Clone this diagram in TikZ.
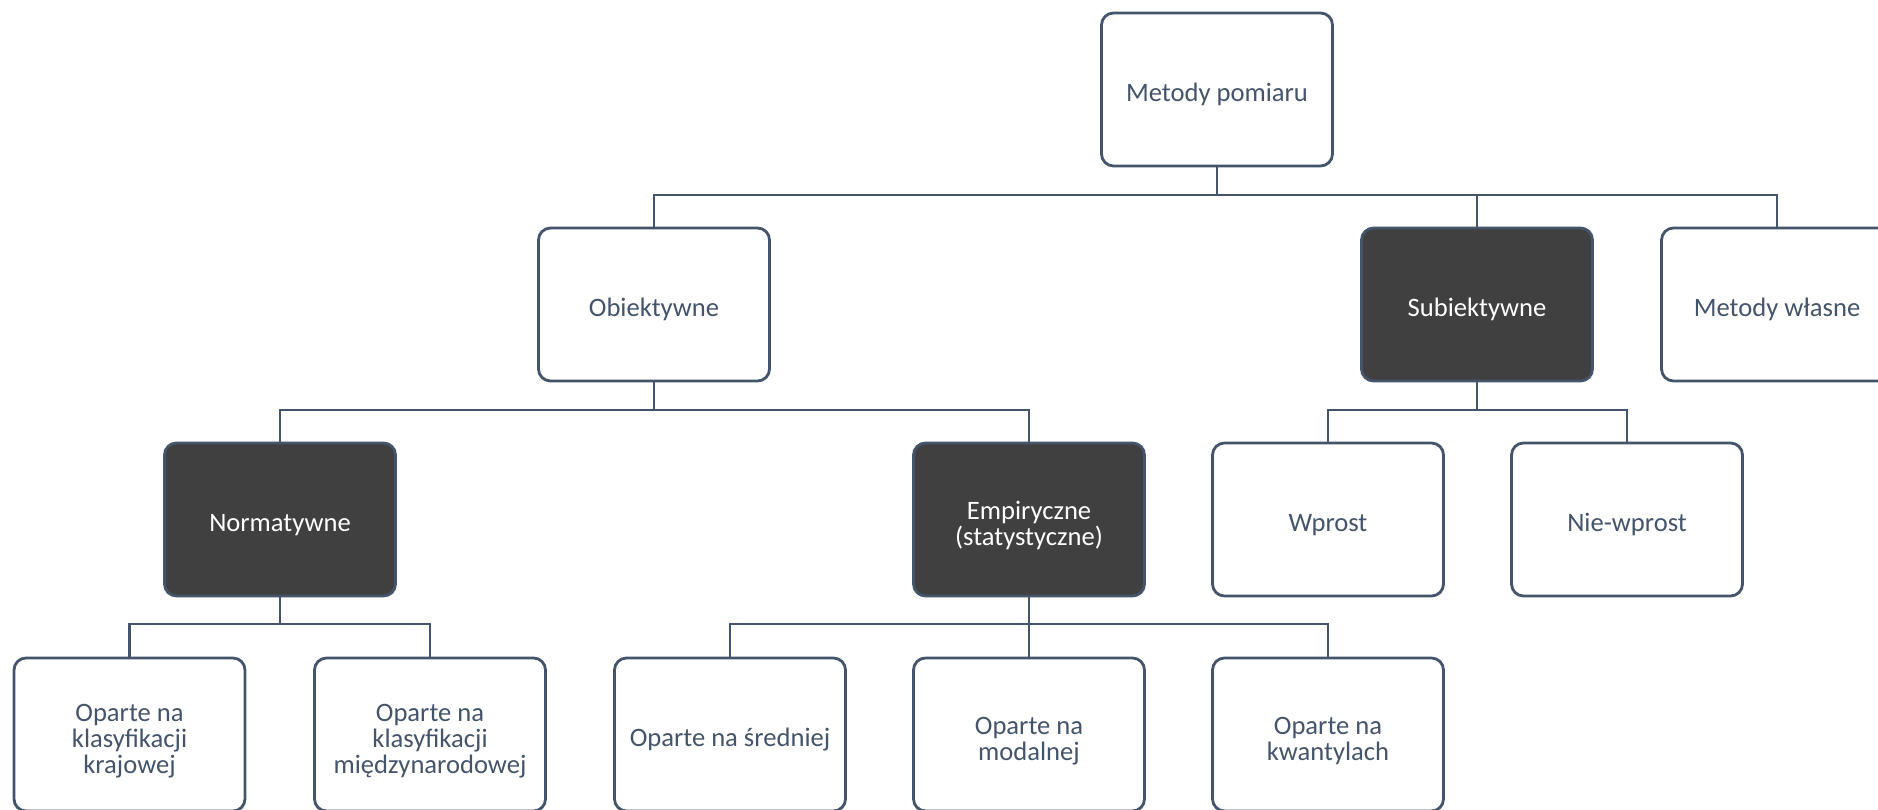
\documentclass[tikz,border=0pt]{standalone}
\usepackage{fontspec}
\setmainfont{Carlito}
\definecolor{slate}{HTML}{44546A}
\definecolor{darkfill}{HTML}{404040}
\newcommand\firstlinestrut{\rule{0pt}{15.3pt}}
\begin{document}
\begin{tikzpicture}[x=0.5pt,y=-0.5pt,
  box/.style={draw=slate, line width=1.4pt, rounded corners=6pt, fill=white,
    minimum width=115.5pt, minimum height=76.5pt, align=center,
    text=slate, font=\fontsize{13.3}{13.2}\selectfont, inner sep=2pt,
    execute at begin node={\rule{0pt}{14.5pt}\ignorespaces}},
  darkbox/.style={box, fill=darkfill, text=white},
  conn/.style={draw=slate, line width=1.3pt}]
\useasboundingbox (0,0) rectangle (1878,809);
\clip (0,0) rectangle (1878,809);
% level 0
\node[box] (top) at (1217,89.5) {Metody pomiaru};
% level 1
\node[box] (obj) at (654,304.5) {Obiektywne};
\node[darkbox] (sub) at (1477,304.5) {Subiektywne};
\node[box] (wla) at (1777,304.5) {Metody własne};
% level 2
\node[darkbox] (nor) at (280,519.5) {Normatywne};
\node[darkbox] (emp) at (1029,519.5) {\firstlinestrut Empiryczne\\(statystyczne)};
\node[box] (wpr) at (1328,519.5) {Wprost};
\node[box] (nwp) at (1627,519.5) {Nie-wprost};
% level 3
\node[box] (kra) at (129.5,734.5) {\firstlinestrut Oparte na\\klasyfikacji\\krajowej};
\node[box] (mie) at (430,734.5) {\firstlinestrut Oparte na\\klasyfikacji\\międzynarodowej};
\node[box] (sre) at (730,734.5) {Oparte na średniej};
\node[box] (mod) at (1029,734.5) {\firstlinestrut Oparte na\\modalnej};
\node[box] (kwa) at (1328,734.5) {\firstlinestrut Oparte na\\kwantylach};
% bus levels
\coordinate (b1) at (0,195);
\coordinate (b2) at (0,410);
\coordinate (b3) at (0,624);
% connectors
\foreach \c in {obj,sub,wla}
  \draw[conn] (top.south) -- (top.south |- b1) -| (\c.north);
\foreach \c in {nor,emp}
  \draw[conn] (obj.south) -- (obj.south |- b2) -| (\c.north);
\foreach \c in {wpr,nwp}
  \draw[conn] (sub.south) -- (sub.south |- b2) -| (\c.north);
\foreach \c in {kra,mie}
  \draw[conn] (nor.south) -- (nor.south |- b3) -| (\c.north);
\foreach \c in {sre,mod,kwa}
  \draw[conn] (emp.south) -- (emp.south |- b3) -| (\c.north);
\end{tikzpicture}
\end{document}
